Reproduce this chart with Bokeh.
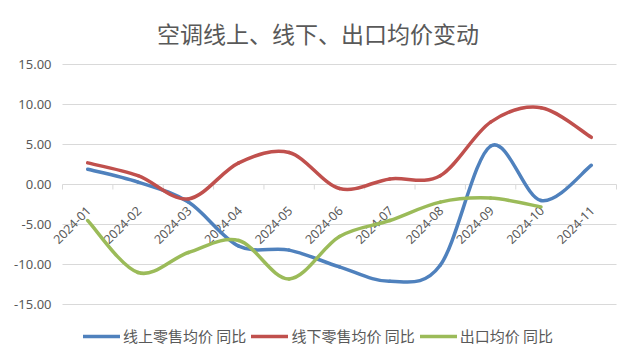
import math
from bokeh.plotting import figure
from bokeh.models import Range1d, Legend, LegendItem, ColumnDataSource
from bokeh.core.properties import value
from bokeh.embed import file_html
from bokeh.resources import INLINE

# ---------------- data ----------------
months = ["2024-01", "2024-02", "2024-03", "2024-04", "2024-05", "2024-06",
          "2024-07", "2024-08", "2024-09", "2024-10", "2024-11"]
online = [1.9, 0.3, -2.2, -7.7, -8.2, -10.3, -12.1, -10.1, 4.8, -2.0, 2.4]
offline = [2.7, 1.1, -1.8, 2.7, 4.0, -0.5, 0.7, 1.1, 7.8, 9.6, 5.9]
export = [-4.5, -11.0, -8.5, -7.0, -11.8, -6.5, -4.5, -2.2, -1.7, -2.8]
series_names = ["线上零售均价 同比", "线下零售均价 同比", "出口均价 同比"]
series_colors = ["#4F81BD", "#C0504D", "#9BBB59"]
y_ticks = [-15, -10, -5, 0, 5, 10, 15]
y_labels = ["%.2f" % t for t in y_ticks]
title_text = "空调线上、线下、出口均价变动"

GRID = "#D9D9D9"
TXT = "#595959"
CJK = "Noto Sans CJK SC"

# ---------------- layout (pixels) ----------------
W, H = 635, 362
TOP = 54                      # frame top (title area above)
PLOT_T = 64                   # y of the highest gridline
PLOT_L, PLOT_R = 62, 616      # plotting area inside the frame
PLOT_B = 304                  # y of the lowest gridline
n = len(months)
ppx = (PLOT_R - PLOT_L) / n                              # px per category
ppy = (PLOT_B - PLOT_T) / (y_ticks[-1] - y_ticks[0])     # px per unit
x_range = Range1d(-PLOT_L / ppx, n + (W - PLOT_R) / ppx)
y_range = Range1d(y_ticks[0] - (H - PLOT_B) / ppy, y_ticks[-1] + (PLOT_T - TOP) / ppy)

p = figure(width=W, height=H, output_backend="svg", toolbar_location=None,
           x_range=x_range, y_range=y_range,
           min_border_left=0, min_border_right=0, min_border_top=TOP,
           min_border_bottom=0, title=title_text)
p.outline_line_color = None
p.background_fill_color = "white"
p.border_fill_color = "white"
p.xaxis.visible = False
p.yaxis.visible = False
p.xgrid.visible = False
p.ygrid.visible = False

p.title.align = "center"
p.title.text_font = CJK
p.title.text_font_style = "normal"
p.title.text_font_size = "23px"
p.title.text_color = TXT
p.title.standoff = 10

# horizontal gridlines and value labels
p.segment(x0=[0] * len(y_ticks), x1=[n] * len(y_ticks), y0=y_ticks, y1=y_ticks,
          line_color=GRID, line_width=1)
p.text(x=[0] * len(y_ticks), y=y_ticks, text=y_labels, x_offset=-11,
       text_align="right", text_baseline="middle",
       text_font=value("Noto Sans"), text_font_size="13px", text_color=TXT)

# category axis crossing at y = 0
bounds = list(range(n + 1))
tick_len = 5 / ppy
p.segment(x0=bounds, y0=[0] * len(bounds), x1=bounds, y1=[-tick_len] * len(bounds),
          line_color=GRID, line_width=1)
centers = [i + 0.5 for i in range(n)]
p.text(x=centers, y=[0] * n, text=months, angle=math.pi / 4,
       text_align="right", text_baseline="middle", x_offset=1, y_offset=24,
       text_font=value("Noto Sans"), text_font_size="12.5px", text_color=TXT)


def smooth(xs, ys):
    m = len(xs)
    d = dict(x0=[], y0=[], x1=[], y1=[], cx0=[], cy0=[], cx1=[], cy1=[])
    for i in range(m - 1):
        a, b = max(i - 1, 0), min(i + 2, m - 1)
        d["x0"].append(xs[i]); d["y0"].append(ys[i])
        d["x1"].append(xs[i + 1]); d["y1"].append(ys[i + 1])
        d["cx0"].append(xs[i] + (xs[i + 1] - xs[a]) / 6)
        d["cy0"].append(ys[i] + (ys[i + 1] - ys[a]) / 6)
        d["cx1"].append(xs[i + 1] - (xs[b] - xs[i]) / 6)
        d["cy1"].append(ys[i + 1] - (ys[b] - ys[i]) / 6)
    return ColumnDataSource(d)


items = []
for name, col, ys in zip(series_names, series_colors, [online, offline, export]):
    src = smooth(centers[:len(ys)], ys)
    r = p.bezier(x0="x0", y0="y0", x1="x1", y1="y1", cx0="cx0", cy0="cy0",
                 cx1="cx1", cy1="cy1", source=src, line_color=col, line_width=3.5,
                 line_cap="round")
    items.append(LegendItem(label=name, renderers=[r]))

legend = Legend(items=items, orientation="horizontal", location=(83, 16),
                glyph_width=37, glyph_height=20, label_height=20, label_standoff=3,
                spacing=5, padding=0, margin=0, border_line_color=None,
                background_fill_alpha=0, label_text_font=CJK,
                label_text_font_size="15px", label_text_color=TXT)
p.add_layout(legend)

open("out.html", "w").write(file_html(p, INLINE))
